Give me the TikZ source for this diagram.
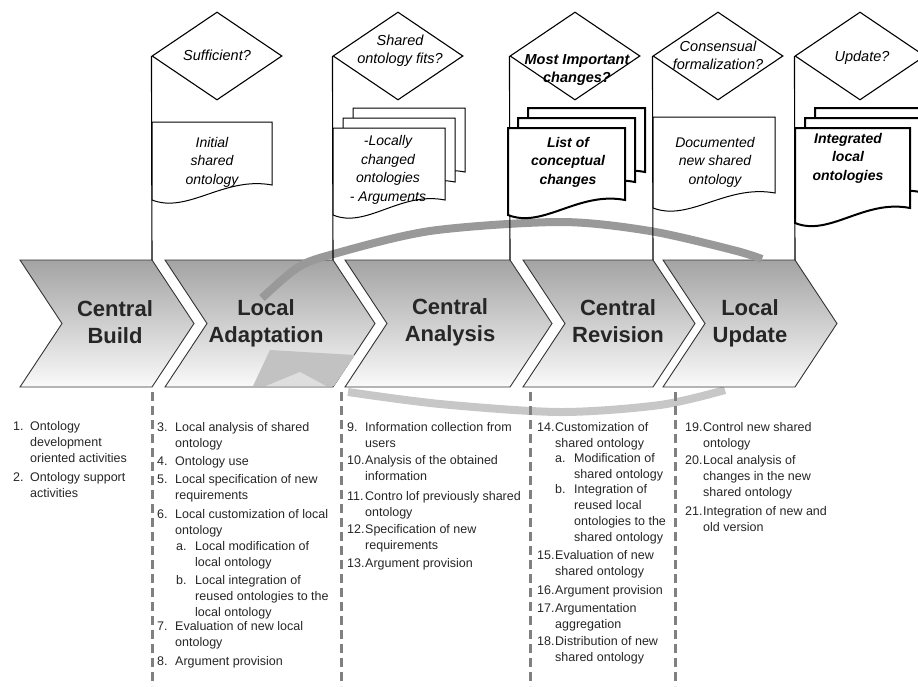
\documentclass[tikz,border=0pt]{standalone}
\usepackage{fontspec}
\setmainfont{Liberation Sans}
\usetikzlibrary{shapes.geometric}

% document sheet with a wavy bottom
\newcommand{\docshape}[5][]{\draw[fill=white,line width=1pt,#1] (#2,#3) -- (#4,#3) -- (#4,{#5-15}) .. controls ({#2+0.6*(#4-#2)},{#5-24}) and ({#2+0.3*(#4-#2)},{#5+14}) .. (#2,#5) -- cycle;}
% lines of one list entry, hung from the first baseline
\newcommand{\entry}[1]{\begin{tabular}[t]{@{}l@{}}#1\end{tabular}}

\begin{document}
\begin{tikzpicture}[x=1pt,y=-1pt,
  chev/.style={draw=black!80,line width=0.9pt,top color=black!36,bottom color=black!2},
  chevtext/.style={align=center,font=\fontsize{22}{27}\selectfont\bfseries,text=black!85},
  decision/.style={diamond,draw,line width=1.1pt,minimum width=130pt,minimum height=88pt,inner sep=0pt},
  dectext/.style={align=center,font=\fontsize{14.5}{18}\selectfont\itshape},
  doctext/.style={align=center,font=\fontsize{14}{18.5}\selectfont\itshape},
  docbold/.style={align=center,font=\fontsize{14}{18.5}\selectfont\bfseries\itshape},
  listitem/.style={anchor=base west,inner sep=0pt,font=\fontsize{12.5}{16}\selectfont,text=black!85},
  divider/.style={draw=black!50,line width=3pt,dash pattern=on 9pt off 5pt},
  cycleband/.style={line width=8pt}
]
\useasboundingbox (0,0) rectangle (918,686);

% lower part of the cycle (behind the phases)
\draw[cycleband,black!22] plot[smooth] coordinates {(348,392) (440,404) (560,412) (660,405) (725,390)};

% phases
\path[chev] (20,260) -- (152,260) coordinate (cb-ne) -- (194,323.5) -- (152,387) -- (20,387) -- (62,323.5) -- cycle;
\path[chev] (165,260) -- (333,260) coordinate (la-ne) -- (375,323.5) -- (333,387) -- (165,387) -- (207,323.5) -- cycle;
\path[chev] (345,260) -- (510,260) coordinate (ca-ne) -- (552,323.5) -- (510,387) -- (345,387) -- (387,323.5) -- cycle;
\path[chev] (523,260) -- (653,260) coordinate (cr-ne) -- (695,323.5) -- (653,387) -- (523,387) -- (565,323.5) -- cycle;
\path[chev] (663,260) -- (795,260) coordinate (lu-ne) -- (837,323.5) -- (795,387) -- (663,387) -- (705,323.5) -- cycle;

% cycle arrow
\fill[black!24] (253,386) -- (270,350) -- (355,355) -- (334,386) -- cycle;
\fill[black!13] (266,386) -- (300,372) -- (326,386) -- cycle;
\draw[cycleband,black!40] plot[smooth] coordinates {(262,298) (297,268) (330,255) (430,231) (560,222) (650,231) (733,250) (762,259)};

\node[chevtext] (cb) at (115,322) {Central\\Build};
\node[chevtext] (la) at (266,323) {Local\\Adaptation};
\node[chevtext] (ca) at (450,322) {Central\\Analysis};
\node[chevtext] (cr) at (618,321) {Central\\Revision};
\node[chevtext] (lu) at (750,323) {Local\\Update};

% decisions
\node[decision] (d1) at (217,56) {};
\node[decision] (d2) at (398,56) {};
\node[decision] (d3) at (575,56) {};
\node[decision] (d4) at (718,56) {};
\node[decision] (d5) at (860,56) {};
\node[dectext] (d1t) at (217,55) {Sufficient?};
\node[dectext] (d2t) at (400,51) {Shared\\ontology fits?};
\node[dectext,font=\fontsize{14.5}{18}\selectfont\bfseries\itshape] (d3t) at (577,70) {Most Important\\changes?};
\node[dectext] (d4t) at (718,55) {Consensual\\formalization?};
\node[dectext] (d5t) at (862,58) {Update?};

\draw[line width=1.1pt] (d1.west) -- (cb-ne);
\draw[line width=1.1pt] (d2.west) -- (la-ne);
\draw[line width=1.1pt] (d3.west) -- (ca-ne);
\draw[line width=1.1pt] (d4.west) -- (cr-ne);
\draw[line width=1.1pt] (d5.west) -- (lu-ne);

% documents
\docshape{152}{122}{272}{200}
\docshape{353}{108}{465}{187}
\docshape{343}{118}{455}{197}
\docshape{333}{128}{445}{215}
\docshape[line width=2pt]{528}{108}{645}{187}
\docshape[line width=2pt]{518}{118}{635}{197}
\docshape[line width=2pt]{508}{128}{625}{215}
\docshape{653}{117}{775}{208}
\docshape[line width=2pt]{815}{108}{930}{197}
\docshape[line width=2pt]{805}{118}{920}{207}
\docshape[line width=2pt]{795}{128}{910}{223}
\node[doctext] (o1) at (212,162) {Initial\\shared\\ontology};
\node[doctext] (o2) at (388,170) {-Locally\\changed\\ontologies\\- Arguments};
\node[docbold] (o3) at (568,162) {List of\\conceptual\\changes};
\node[doctext] (o4) at (715,162) {Documented\\new shared\\ontology};
\node[docbold] (o5) at (848,158) {Integrated\\local\\ontologies};

% activity columns
\draw[divider] (152,392) -- (152,686);
\draw[divider] (341,392) -- (341,686);
\draw[divider] (530,392) -- (530,686);
\draw[divider] (675,392) -- (675,686);

\node[listitem] (n1) at (13,430) {1.};
\node[listitem] (t1) at (30,430) {\entry{Ontology\\development\\oriented activities}};
\node[listitem] (n2) at (13,481) {2.};
\node[listitem] (t2) at (30,481) {\entry{Ontology support\\activities}};

\node[listitem] (n3) at (157,431) {3.};
\node[listitem] (t3) at (175,431) {\entry{Local analysis of shared\\ontology}};
\node[listitem] (n4) at (157,465) {4.};
\node[listitem] (t4) at (175,465) {Ontology use};
\node[listitem] (n5) at (157,483) {5.};
\node[listitem] (t5) at (175,483) {\entry{Local specification of new\\requirements}};
\node[listitem] (n6) at (157,518) {6.};
\node[listitem] (t6) at (175,518) {\entry{Local customization of local\\ontology}};
\node[listitem] (n6a) at (176,550) {a.};
\node[listitem] (t6a) at (195,550) {\entry{Local modification of\\local ontology}};
\node[listitem] (n6b) at (176,584) {b.};
\node[listitem] (t6b) at (195,584) {\entry{Local integration of\\reused ontologies to the\\local ontology}};
\node[listitem] (n7) at (157,630) {7.};
\node[listitem] (t7) at (175,630) {\entry{Evaluation of new local\\ontology}};
\node[listitem] (n8) at (157,665) {8.};
\node[listitem] (t8) at (175,665) {Argument provision};

\node[listitem] (n9) at (347,431) {9.};
\node[listitem] (t9) at (365,431) {\entry{Information collection from\\users}};
\node[listitem] (n10) at (347,464) {10.};
\node[listitem] (t10) at (365,464) {\entry{Analysis of the obtained\\information}};
\node[listitem] (n11) at (347,500) {11.};
\node[listitem] (t11) at (365,500) {\entry{Contro lof previously shared\\ontology}};
\node[listitem] (n12) at (347,533) {12.};
\node[listitem] (t12) at (365,533) {\entry{Specification of new\\requirements}};
\node[listitem] (n13) at (347,567) {13.};
\node[listitem] (t13) at (365,567) {Argument provision};

\node[listitem] (n14) at (537,431) {14.};
\node[listitem] (t14) at (555,431) {\entry{Customization of\\shared ontology}};
\node[listitem] (n14a) at (555,462) {a.};
\node[listitem] (t14a) at (574,462) {\entry{Modification of\\shared ontology}};
\node[listitem] (n14b) at (555,493) {b.};
\node[listitem] (t14b) at (574,493) {\entry{Integration of\\reused local\\ontologies to the\\shared ontology}};
\node[listitem] (n15) at (537,559) {15.};
\node[listitem] (t15) at (555,559) {\entry{Evaluation of new\\shared ontology}};
\node[listitem] (n16) at (537,594) {16.};
\node[listitem] (t16) at (555,594) {Argument provision};
\node[listitem] (n17) at (537,612) {17.};
\node[listitem] (t17) at (555,612) {\entry{Argumentation\\aggregation}};
\node[listitem] (n18) at (537,645) {18.};
\node[listitem] (t18) at (555,645) {\entry{Distribution of new\\shared ontology}};

\node[listitem] (n19) at (685,431) {19.};
\node[listitem] (t19) at (703,431) {\entry{Control new shared\\ontology}};
\node[listitem] (n20) at (685,464) {20.};
\node[listitem] (t20) at (703,464) {\entry{Local analysis of\\changes in the new\\shared ontology}};
\node[listitem] (n21) at (685,515) {21.};
\node[listitem] (t21) at (703,515) {\entry{Integration of new and\\old version}};
\end{tikzpicture}
\end{document}
